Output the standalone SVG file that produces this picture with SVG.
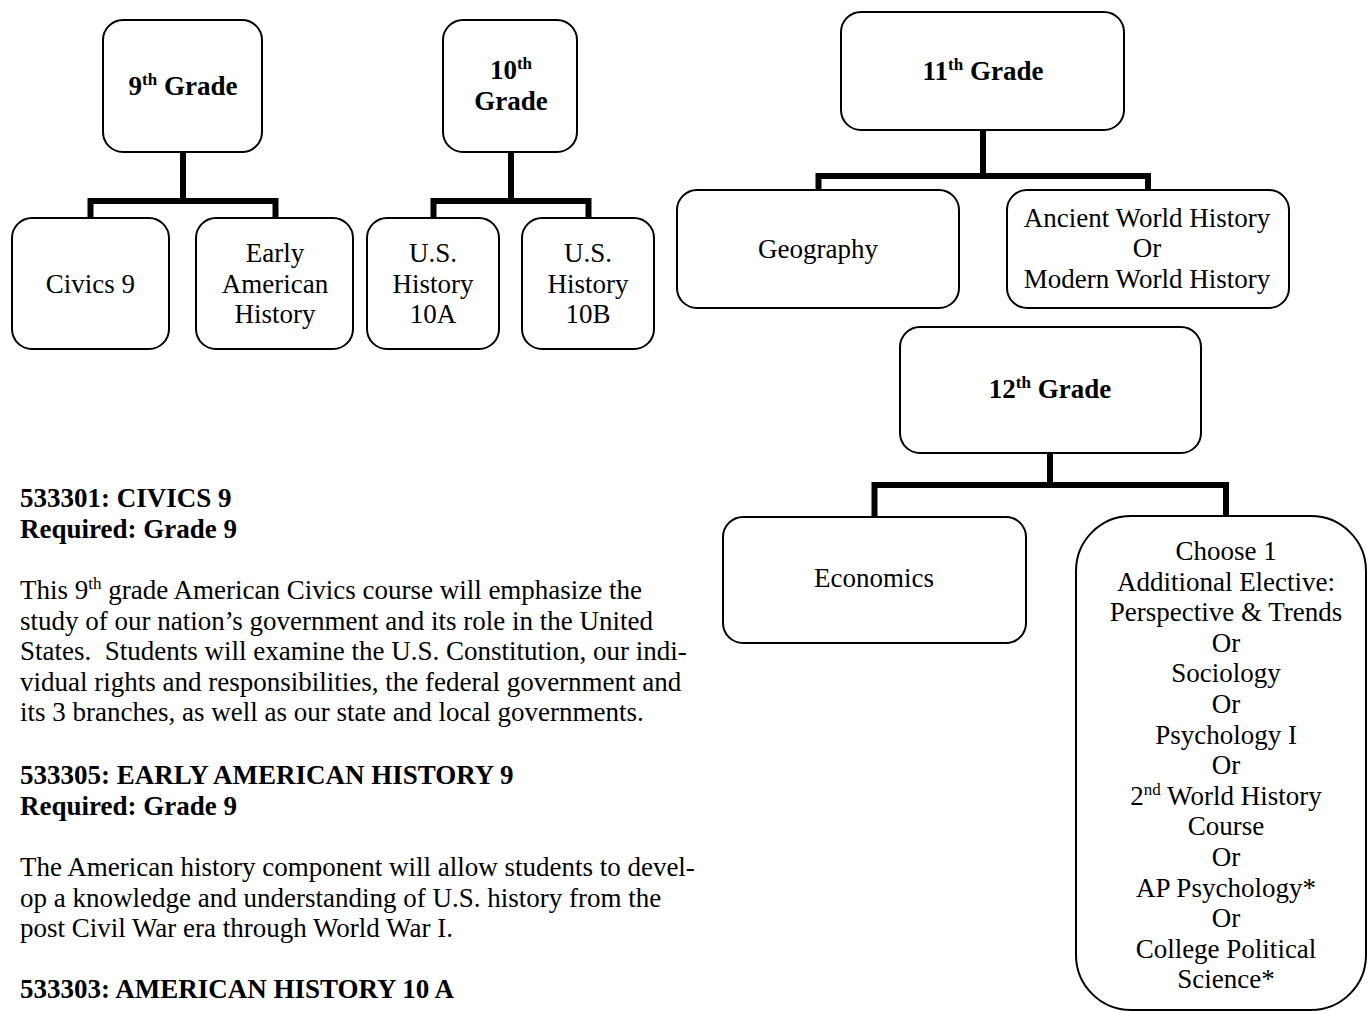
<svg xmlns="http://www.w3.org/2000/svg" width="1367" height="1011" viewBox="0 0 1367 1011">
<style>
.box{fill:#fff;stroke:#000;stroke-width:2}
.t{font-family:"Liberation Serif","Times New Roman",serif;font-size:27px;fill:#000;text-anchor:middle}
.b{font-weight:bold}
.p{font-family:"Liberation Serif","Times New Roman",serif;font-size:27px;fill:#000}
.conn{fill:none;stroke:#000;stroke-width:6;stroke-linejoin:miter;stroke-linecap:butt}
</style>
<rect width="1367" height="1011" fill="#fff"/>
<g id="connectors">
<path class="conn" d="M183 152V201M90.5 218V201H275.5V218"/>
<path class="conn" d="M511 152V201M433.5 218V201H588.5V218"/>
<path class="conn" d="M983 130V176M818.5 190V176H1148V190"/>
<path class="conn" d="M1050 453V485M874.5 517V485H1226V517"/>
</g>
<g id="grade9">
<rect class="box" x="103" y="20" width="159" height="132" rx="20"/>
<text class="t b" x="183" y="95">9<tspan font-size="17" dy="-10">th</tspan><tspan dy="10"> Grade</tspan></text>
</g>
<g id="civics9">
<rect class="box" x="12" y="218" width="157" height="131" rx="20"/>
<text class="t" x="90.5" y="293">Civics 9</text>
</g>
<g id="earlyamerican">
<rect class="box" x="196" y="218" width="157" height="131" rx="20"/>
<text class="t" x="275" y="262">Early</text>
<text class="t" x="275" y="293">American</text>
<text class="t" x="275" y="323">History</text>
</g>
<g id="grade10">
<rect class="box" x="443" y="20" width="134" height="132" rx="20"/>
<text class="t b" x="511" y="79">10<tspan font-size="17" dy="-10">th</tspan></text>
<text class="t b" x="511" y="110">Grade</text>
</g>
<g id="ush10a">
<rect class="box" x="367" y="218" width="132" height="131" rx="20"/>
<text class="t" x="433" y="262">U.S.</text>
<text class="t" x="433" y="293">History</text>
<text class="t" x="433" y="323">10A</text>
</g>
<g id="ush10b">
<rect class="box" x="522" y="218" width="132" height="131" rx="20"/>
<text class="t" x="588" y="262">U.S.</text>
<text class="t" x="588" y="293">History</text>
<text class="t" x="588" y="323">10B</text>
</g>
<g id="grade11">
<rect class="box" x="841" y="12" width="283" height="118" rx="20"/>
<text class="t b" x="983" y="80">11<tspan font-size="17" dy="-10">th</tspan><tspan dy="10"> Grade</tspan></text>
</g>
<g id="geography">
<rect class="box" x="677" y="190" width="282" height="118" rx="20"/>
<text class="t" x="818" y="258">Geography</text>
</g>
<g id="worldhistory">
<rect class="box" x="1007" y="190" width="282" height="118" rx="20"/>
<text class="t" x="1147" y="227">Ancient World History</text>
<text class="t" x="1147" y="257">Or</text>
<text class="t" x="1147" y="288">Modern World History</text>
</g>
<g id="grade12">
<rect class="box" x="900" y="327" width="301" height="126" rx="20"/>
<text class="t b" x="1050" y="398">12<tspan font-size="17" dy="-10">th</tspan><tspan dy="10"> Grade</tspan></text>
</g>
<g id="economics">
<rect class="box" x="723" y="517" width="303" height="126" rx="20"/>
<text class="t" x="874" y="587">Economics</text>
</g>
<g id="elective">
<rect class="box" x="1076" y="516" width="290" height="494" rx="55"/>
<text class="t" x="1226" y="560">Choose 1</text>
<text class="t" x="1226" y="590.6">Additional Elective:</text>
<text class="t" x="1226" y="621.2">Perspective &amp; Trends</text>
<text class="t" x="1226" y="651.8">Or</text>
<text class="t" x="1226" y="682.4">Sociology</text>
<text class="t" x="1226" y="713">Or</text>
<text class="t" x="1226" y="743.6">Psychology I</text>
<text class="t" x="1226" y="774.2">Or</text>
<text class="t" x="1226" y="804.8">2<tspan font-size="17" dy="-10">nd</tspan><tspan dy="10"> World History</tspan></text>
<text class="t" x="1226" y="835.4">Course</text>
<text class="t" x="1226" y="866">Or</text>
<text class="t" x="1226" y="896.6">AP Psychology*</text>
<text class="t" x="1226" y="927.2">Or</text>
<text class="t" x="1226" y="957.8">College Political</text>
<text class="t" x="1226" y="988.4">Science*</text>
</g>
<g id="descriptions">
<text class="p b" x="20" y="507">533301: CIVICS 9</text>
<text class="p b" x="20" y="538">Required: Grade 9</text>
<text class="p" x="20" y="599">This 9<tspan font-size="17" dy="-10">th</tspan><tspan dy="10"> grade American Civics course will emphasize the</tspan></text>
<text class="p" x="20" y="629.6">study of our nation’s government and its role in the United</text>
<text class="p" x="20" y="660.2" xml:space="preserve">States.  Students will examine the U.S. Constitution, our indi-</text>
<text class="p" x="20" y="690.8">vidual rights and responsibilities, the federal government and</text>
<text class="p" x="20" y="721.4">its 3 branches, as well as our state and local governments.</text>
<text class="p b" x="20" y="784">533305: EARLY AMERICAN HISTORY 9</text>
<text class="p b" x="20" y="815">Required: Grade 9</text>
<text class="p" x="20" y="876">The American history component will allow students to devel-</text>
<text class="p" x="20" y="906.6">op a knowledge and understanding of U.S. history from the</text>
<text class="p" x="20" y="937.2">post Civil War era through World War I.</text>
<text class="p b" x="20" y="998">533303: AMERICAN HISTORY 10 A</text>
</g>
</svg>
